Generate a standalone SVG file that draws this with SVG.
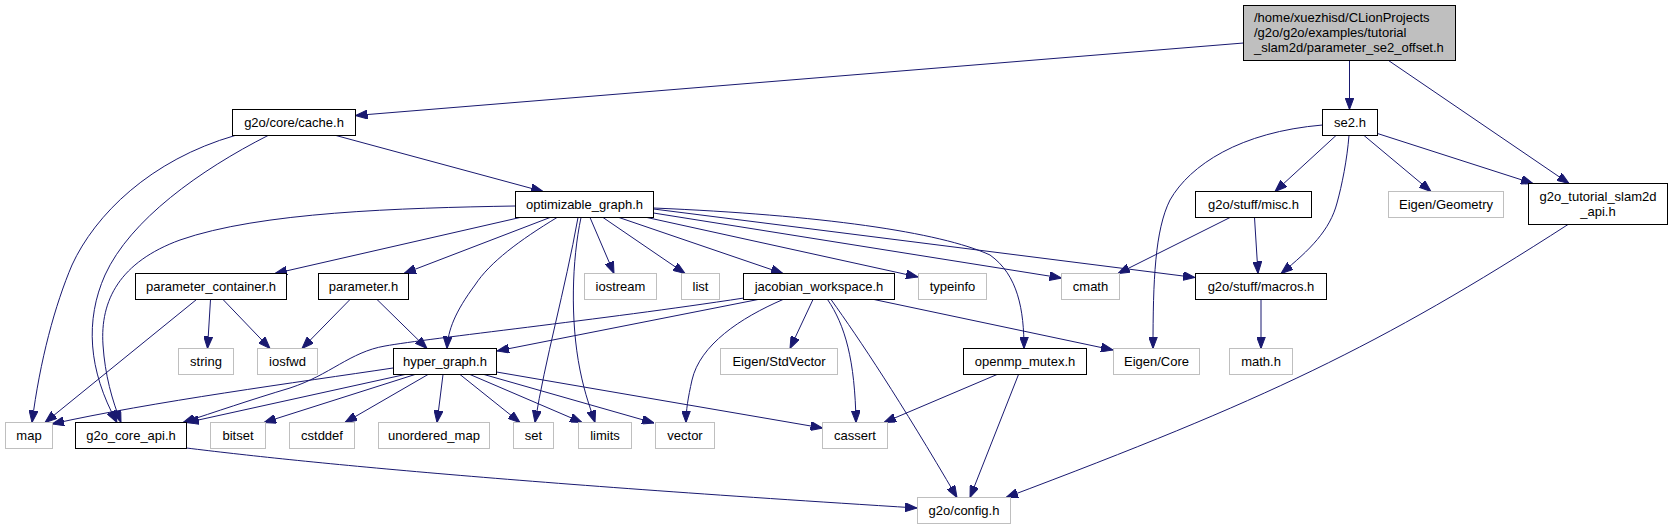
<svg xmlns="http://www.w3.org/2000/svg" width="1673" height="529" viewBox="0 0 1673 529">
<style>
.n rect{fill:#fff;stroke:#000;stroke-width:1}
.g rect{fill:#fff;stroke:#bfbfbf;stroke-width:1}
text{font-family:"Liberation Sans",Arial,sans-serif;font-size:13px;fill:#000;text-anchor:middle}
#edges path{fill:none;stroke:#191970;stroke-width:1;marker-end:url(#a)}
</style>
<defs>
<marker id="a" markerWidth="12" markerHeight="9" refX="12" refY="4.5" orient="auto" markerUnits="userSpaceOnUse">
<path d="M0,0 L12,4.5 L0,9 z" fill="#191970" stroke="#191970" stroke-width="1"/>
</marker>
</defs>
<rect width="1673" height="529" fill="#fff"/>
<g id="edges">
<path d="M1243.5,43 L355.5,115.5"/>
<path d="M1349.5,60.5 L1349.5,109.5"/>
<path d="M1388.5,60.5 L1569,183.5"/>
<path d="M235,135.5 C150,160 95,215 72,265 C55,305 40,360 32,422.5"/>
<path d="M268,135.5 C200,170 130,220 105,275 C85,320 88,370 117,422.5"/>
<path d="M336,135.5 L543,191.5"/>
<path d="M1322.5,125 C1240,132 1190,165 1170,200 C1155,230 1153,280 1153,348.5"/>
<path d="M1336,135.5 L1275,191.5"/>
<path d="M1349,135.5 C1347,160 1342,185 1337,203 C1330,230 1310,250 1281,273.5"/>
<path d="M1364,135.5 L1431,191.5"/>
<path d="M1377.5,133.5 L1533,183.5"/>
<path d="M1230,217.5 L1118,273.5"/>
<path d="M1254.5,217.5 L1258,273.5"/>
<path d="M1261,299.5 L1261,348.5"/>
<path d="M1568,224.5 C1378,347 1265,400 1006,497.5"/>
<path d="M515,206 C400,208 260,212 180,240 C120,262 100,300 103,345 C105,375 112,400 121,422.5"/>
<path d="M520,217.5 L275,273.5"/>
<path d="M550,217.5 L404,273.5"/>
<path d="M557,217.5 C520,240 490,262 475,285 C455,312 448,330 447,348.5"/>
<path d="M578,217.5 C565,290 545,360 535,422.5"/>
<path d="M581,217.5 C572,260 570,320 580,370 C585,395 591,410 595,422.5"/>
<path d="M590,217.5 L614,273.5"/>
<path d="M603,217.5 L685,273.5"/>
<path d="M619,217.5 L783,273.5"/>
<path d="M647,217.5 L918,277"/>
<path d="M653.5,213 L1061.5,278"/>
<path d="M653.5,209 L1195,277.5"/>
<path d="M653.5,208 C820,215 940,232 990,255 C1018,275 1024,310 1024,348.5"/>
<path d="M196.5,299.5 L45,422.5"/>
<path d="M210.5,299.5 L207.5,348.5"/>
<path d="M223,299.5 L270,348.5"/>
<path d="M350,299.5 L302,348.5"/>
<path d="M377,299.5 L427,348.5"/>
<path d="M744,298 C600,320 430,338 385,346 C350,352 330,375 290,388 C250,400 215,412 183,422.5"/>
<path d="M758,299.5 L497,351"/>
<path d="M813,299.5 L790,348.5"/>
<path d="M783,299.5 C740,318 700,345 692,380 C688,398 686,410 686,422.5"/>
<path d="M827.5,299.5 C845,325 855,360 856,422.5"/>
<path d="M831,299.5 C860,340 900,400 957,497.5"/>
<path d="M874,299.5 L1113,350"/>
<path d="M393,368 C300,382 150,402 52,424"/>
<path d="M405,374.5 L187,422.5"/>
<path d="M415,374.5 L264,422.5"/>
<path d="M428,374.5 L345,422.5"/>
<path d="M443,374.5 L437,422.5"/>
<path d="M460,374.5 L520,422.5"/>
<path d="M470,374.5 L582,422.5"/>
<path d="M484,374.5 L654,423"/>
<path d="M496.5,372 L822.5,428"/>
<path d="M997,374.5 L884,422.5"/>
<path d="M1018.5,374.5 L970,497.5"/>
<path d="M186.5,448 C300,462 500,482 917,508"/>
</g>
<g id="main" class="n"><rect x="1243.5" y="5.5" width="212" height="55" style="fill:#bfbfbf"/><text x="1254" y="22" style="text-anchor:start">/home/xuezhisd/CLionProjects</text><text x="1254" y="37" style="text-anchor:start">/g2o/g2o/examples/tutorial</text><text x="1254" y="51.5" style="text-anchor:start">_slam2d/parameter_se2_offset.h</text></g>
<g id="cache" class="n"><rect x="232.5" y="109.5" width="123" height="26"/><text x="294" y="127">g2o/core/cache.h</text></g>
<g id="se2" class="n"><rect x="1322.5" y="109.5" width="55" height="26"/><text x="1350" y="127">se2.h</text></g>
<g id="misc" class="n"><rect x="1195.5" y="191.5" width="116" height="26"/><text x="1253.5" y="209">g2o/stuff/misc.h</text></g>
<g id="geometry" class="g"><rect x="1388.5" y="191.5" width="115" height="26"/><text x="1446" y="209">Eigen/Geometry</text></g>
<g id="tutorial_api" class="n"><rect x="1528.5" y="183.5" width="139" height="41"/><text x="1598" y="201">g2o_tutorial_slam2d</text><text x="1598" y="215.5">_api.h</text></g>
<g id="optimizable_graph" class="n"><rect x="515.5" y="191.5" width="138" height="26"/><text x="584.5" y="209">optimizable_graph.h</text></g>
<g id="parameter_container" class="n"><rect x="135.5" y="273.5" width="151" height="26"/><text x="211" y="291">parameter_container.h</text></g>
<g id="parameter" class="n"><rect x="318.5" y="273.5" width="90" height="26"/><text x="363.5" y="291">parameter.h</text></g>
<g id="iostream" class="g"><rect x="584.5" y="273.5" width="72" height="26"/><text x="620.5" y="291">iostream</text></g>
<g id="list" class="g"><rect x="681.5" y="273.5" width="38" height="26"/><text x="700.5" y="291">list</text></g>
<g id="jacobian_workspace" class="n"><rect x="743.5" y="273.5" width="151" height="26"/><text x="819" y="291">jacobian_workspace.h</text></g>
<g id="typeinfo" class="g"><rect x="918.5" y="273.5" width="68" height="26"/><text x="952.5" y="291">typeinfo</text></g>
<g id="cmath" class="g"><rect x="1061.5" y="273.5" width="58" height="26"/><text x="1090.5" y="291">cmath</text></g>
<g id="macros" class="n"><rect x="1195.5" y="273.5" width="131" height="26"/><text x="1261" y="291">g2o/stuff/macros.h</text></g>
<g id="string" class="g"><rect x="178.5" y="348.5" width="55" height="26"/><text x="206" y="366">string</text></g>
<g id="iosfwd" class="g"><rect x="257.5" y="348.5" width="60" height="26"/><text x="287.5" y="366">iosfwd</text></g>
<g id="hyper_graph" class="n"><rect x="393.5" y="348.5" width="103" height="26"/><text x="445" y="366">hyper_graph.h</text></g>
<g id="stdvector" class="g"><rect x="720.5" y="348.5" width="117" height="26"/><text x="779" y="366">Eigen/StdVector</text></g>
<g id="openmp_mutex" class="n"><rect x="963.5" y="348.5" width="123" height="26"/><text x="1025" y="366">openmp_mutex.h</text></g>
<g id="eigen_core" class="g"><rect x="1113.5" y="348.5" width="86" height="26"/><text x="1156.5" y="366">Eigen/Core</text></g>
<g id="math" class="g"><rect x="1229.5" y="348.5" width="63" height="26"/><text x="1261" y="366">math.h</text></g>
<g id="map" class="g"><rect x="5.5" y="422.5" width="47" height="26"/><text x="29" y="440">map</text></g>
<g id="core_api" class="n"><rect x="75.5" y="422.5" width="111" height="26"/><text x="131" y="440">g2o_core_api.h</text></g>
<g id="bitset" class="g"><rect x="210.5" y="422.5" width="55" height="26"/><text x="238" y="440">bitset</text></g>
<g id="cstddef" class="g"><rect x="289.5" y="422.5" width="65" height="26"/><text x="322" y="440">cstddef</text></g>
<g id="unordered_map" class="g"><rect x="378.5" y="422.5" width="111" height="26"/><text x="434" y="440">unordered_map</text></g>
<g id="set" class="g"><rect x="513.5" y="422.5" width="40" height="26"/><text x="533.5" y="440">set</text></g>
<g id="limits" class="g"><rect x="578.5" y="422.5" width="53" height="26"/><text x="605" y="440">limits</text></g>
<g id="vector" class="g"><rect x="655.5" y="422.5" width="59" height="26"/><text x="685" y="440">vector</text></g>
<g id="cassert" class="g"><rect x="822.5" y="422.5" width="65" height="26"/><text x="855" y="440">cassert</text></g>
<g id="config" class="g"><rect x="917.5" y="497.5" width="93" height="26"/><text x="964" y="515">g2o/config.h</text></g>
</svg>
